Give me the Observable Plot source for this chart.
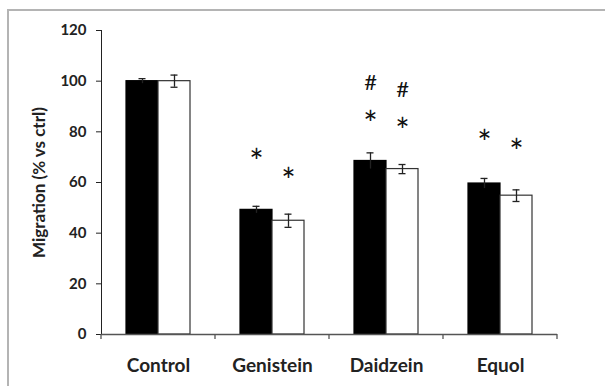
<!DOCTYPE html>
<html>
<head>
<meta charset="utf-8">
<script src="https://cdn.jsdelivr.net/npm/d3@7"></script>
<script src="https://cdn.jsdelivr.net/npm/@observablehq/plot@0.6"></script>
<style>
  html, body { margin: 0; padding: 0; background: #fff; }
  #wrap { position: relative; width: 605px; height: 386px; overflow: hidden; }
  #frame { position: absolute; left: 7px; top: 9px; width: 700px; height: 500px; border: 2px solid #b4b4b4; box-sizing: border-box; pointer-events: none; }
  #chart { position: absolute; left: 0; top: 0; }
  #chart g[aria-label="y-axis tick label"] text { font-size: 15px; }
  #chart g[aria-label="fx-axis tick label"] text { font-size: 19px; }
  #chart g[aria-label="y-axis label"] text { font-size: 17px; }
</style>
</head>
<body>
<div id="wrap"><div id="frame"></div><div id="chart"></div></div>
<script>
const categories = ["Control", "Genistein", "Daidzein", "Equol"];
const series = ["A", "B"];
const valuesA = [100, 49.2, 68.5, 59.6];
const errorsA = [1.0, 1.4, 3.2, 2.0];
const valuesB = [100, 44.9, 65.3, 54.8];
const errorsB = [2.4, 2.6, 1.8, 2.3];
const yTicks = [0, 20, 40, 60, 80, 100, 120];

const annotCategory = ["Genistein", "Genistein", "Daidzein", "Daidzein", "Daidzein", "Daidzein", "Equol", "Equol"];
const annotSeries   = ["A", "B", "A", "B", "A", "B", "A", "B"];
const annotText     = ["*", "*", "*", "*", "#", "#", "*", "*"];
const annotY        = [71.1, 63.6, 86.1, 83.3, 98.3, 95.5, 78.6, 75.0];

const bars = [];
categories.forEach((c, i) => {
  bars.push({category: c, series: "A", value: valuesA[i], err: errorsA[i]});
  bars.push({category: c, series: "B", value: valuesB[i], err: errorsB[i]});
});
const annots = annotText.map((t, i) => ({category: annotCategory[i], series: annotSeries[i], text: t, y: annotY[i]}));

const font = "Lato, 'Open Sans', sans-serif";
const chart = Plot.plot({
  width: 605,
  height: 386,
  marginLeft: 100,
  marginRight: 47,
  marginTop: 30,
  marginBottom: 52,
  style: {fontFamily: font, fontSize: "15px", fontWeight: "bold", color: "#222", background: "transparent", overflow: "visible"},
  fx: {domain: categories, padding: 0, tickSize: 0, tickPadding: 24, label: null},
  x: {domain: series, paddingInner: 0, paddingOuter: 0.735, axis: null},
  y: {domain: [0, 120], ticks: yTicks, tickSize: 5, tickPadding: 10, line: true,
      label: "Migration (% vs ctrl)", labelAnchor: "center", labelArrow: "none", labelOffset: 69},
  marks: [
    Plot.barY(bars, {fx: "category", x: "series", y: "value",
      fill: d => d.series === "A" ? "#000" : "#fff", stroke: d => d.series === "A" ? "#000" : "#333", strokeWidth: 1.2}),
    Plot.ruleX(bars, {fx: "category", x: "series", y1: d => d.value - d.err, y2: d => d.value + d.err, stroke: "#222", strokeWidth: 1.3}),
    Plot.tickY(bars, {fx: "category", x: "series", y: d => d.value + d.err, stroke: "#222", strokeWidth: 1.3, insetLeft: 12.5, insetRight: 12.5}),
    Plot.tickY(bars, {fx: "category", x: "series", y: d => d.value - d.err, stroke: "#222", strokeWidth: 1.3, insetLeft: 12.5, insetRight: 12.5, filter: d => d.series === "B"}),
    Plot.ruleY([0], {stroke: "#555", strokeWidth: 1.3}),
    Plot.text(annots.filter(d => d.text === "*"), {fx: "category", x: "series", y: "y", text: "text",
      fontSize: 34, fontWeight: "normal", fill: "#111", dy: 9, fontFamily: font}),
    Plot.text(annots.filter(d => d.text === "#"), {fx: "category", x: "series", y: "y", text: "text",
      fontSize: 22, fontWeight: "normal", fill: "#111", dy: -3, fontFamily: font})
  ]
});
document.getElementById("chart").appendChild(chart);

// category boundary ticks on the x axis, positioned with Plot's own scales
const fxs = chart.scale("fx");
const ys = chart.scale("y");
const bounds = categories.map(c => fxs.apply(c)).concat([fxs.apply(categories[categories.length - 1]) + fxs.bandwidth]);
const y0 = ys.apply(0);
d3.select(chart).append("g")
  .selectAll("line").data(bounds).join("line")
  .attr("x1", d => d).attr("x2", d => d)
  .attr("y1", y0).attr("y2", y0 + 5)
  .attr("stroke", "#555").attr("stroke-width", 1.3);
d3.select(chart).selectAll("[aria-label='y-axis tick'], [aria-label='y-axis line']").attr("stroke", "#555");
</script>
</body>
</html>
